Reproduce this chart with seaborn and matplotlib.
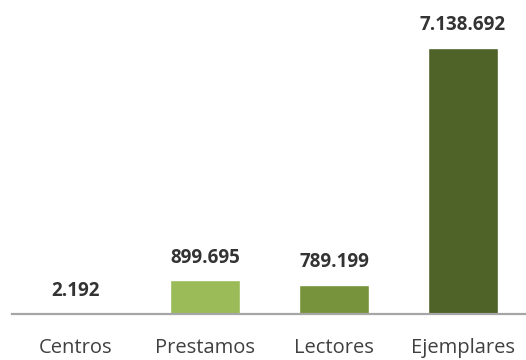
import matplotlib
matplotlib.use("Agg")
import matplotlib.pyplot as plt
import seaborn as sns
import pandas as pd

categorias = ["Centros", "Prestamos", "Lectores", "Ejemplares"]
valores = [2192, 899695, 789199, 7138692]
etiquetas = ["2.192", "899.695", "789.199", "7.138.692"]
colores = ["#C3D69B", "#9BBB59", "#77933C", "#4F6228"]

sns.set_theme(style="white")
plt.rcParams["font.family"] = ["Open Sans", "DejaVu Sans"]

df = pd.DataFrame({"categoria": categorias, "valor": valores})

W, H = 526, 360
fig = plt.figure(figsize=(W / 100, H / 100), dpi=100)
base_px = 314
top_px = 16
ax = fig.add_axes([11.5 / W, (H - base_px) / H, 516 / W, (base_px - top_px) / H])

sns.barplot(data=df, x="categoria", y="valor", hue="categoria",
            palette=colores, width=0.54, legend=False, ax=ax,
            saturation=1)

ax.set_xlim(-0.5, 3.5)
ymax = 7138692 * (base_px - top_px) / (base_px - 48)
ax.set_ylim(0, ymax)

for i, (v, t) in enumerate(zip(valores, etiquetas)):
    ax.annotate(t, (i, v), xytext=(0, 16.5), textcoords="offset points",
                ha="center", va="center", fontsize=13.5, fontweight="bold",
                color="#333333")

for s in ["top", "right", "left"]:
    ax.spines[s].set_visible(False)
ax.spines["bottom"].set_color("#A6A6A6")
ax.spines["bottom"].set_linewidth(1.6)
ax.set_yticks([])
ax.set_xlabel("")
ax.set_ylabel("")
ax.tick_params(axis="x", length=0, pad=17, labelsize=14.5, labelcolor="#404040")

fig.savefig("out.png", dpi=100)
